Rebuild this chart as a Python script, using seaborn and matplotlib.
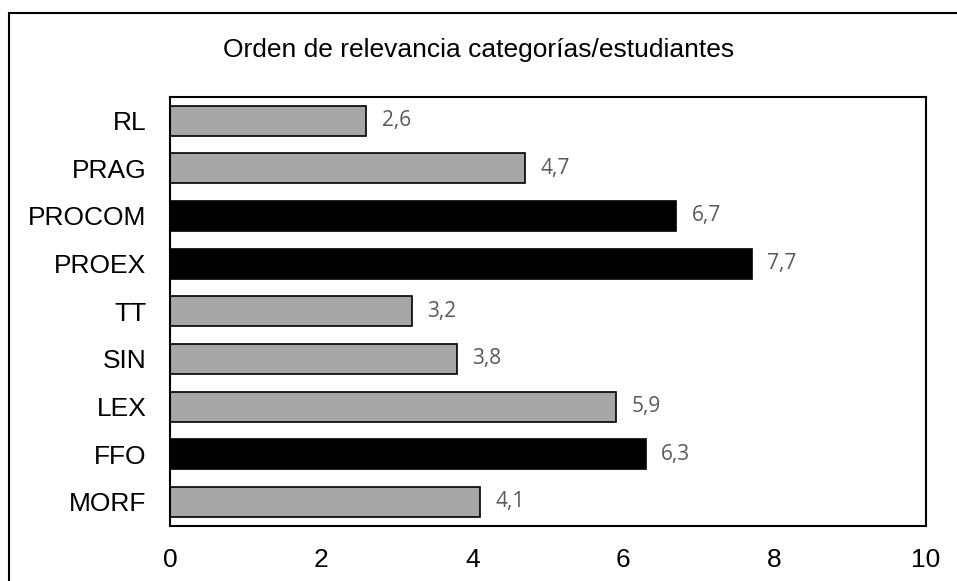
import pandas as pd
import seaborn as sns
import matplotlib.pyplot as plt
from matplotlib.patches import Rectangle

# --- DATA ---
categories = ["RL", "PRAG", "PROCOM", "PROEX", "TT", "SIN", "LEX", "FFO", "MORF"]
values = [2.6, 4.7, 6.7, 7.7, 3.2, 3.8, 5.9, 6.3, 4.1]
highlight = ["PROCOM", "PROEX", "FFO"]
x_ticks = [0, 2, 4, 6, 8, 10]
title = "Orden de relevancia categorías/estudiantes"

df = pd.DataFrame({"categoria": categories, "valor": values})
palette = {c: ("#000000" if c in highlight else "#A6A6A6") for c in categories}

# --- STYLE ---
sns.set_theme(style="white")
plt.rcParams["font.family"] = ["Liberation Sans", "DejaVu Sans"]

fig = plt.figure(figsize=(9.57, 5.81), dpi=100)
ax = fig.add_axes([170 / 957, 1 - 525.7 / 581, (925.7 - 170) / 957, (525.7 - 96.7) / 581])

sns.barplot(data=df, x="valor", y="categoria", hue="categoria", palette=palette,
            order=categories, orient="h", width=0.63, edgecolor="black",
            linewidth=1.2, legend=False, ax=ax)

# data labels with decimal comma
for cont in ax.containers:
    labels = [f"{v:.1f}".replace(".", ",") for v in cont.datavalues]
    ax.bar_label(cont, labels=labels, padding=11, fontsize=15,
                 color="#595959", family=["Open Sans", "DejaVu Sans"])

ax.set_xlim(0, 10)
ax.set_xticks(x_ticks)
ax.set_xticklabels([str(t) for t in x_ticks])
ax.set_xlabel("")
ax.set_ylabel("")
ax.tick_params(axis="both", length=0, labelsize=19, colors="black")
ax.tick_params(axis="x", pad=16)
ax.tick_params(axis="y", pad=17)
for s in ax.spines.values():
    s.set_visible(True)
    s.set_color("black")
    s.set_linewidth(1.5)

# title and outer chart border
fig.text(0.5, 1 - 50 / 581, title, ha="center", va="center", fontsize=19, color="black")
fig.patches.append(Rectangle((9 / 957, -0.2), 2, 1.2 - 13 / 581, transform=fig.transFigure,
                             fill=False, edgecolor="black", linewidth=1.5))

fig.savefig("out.png", dpi=100)
